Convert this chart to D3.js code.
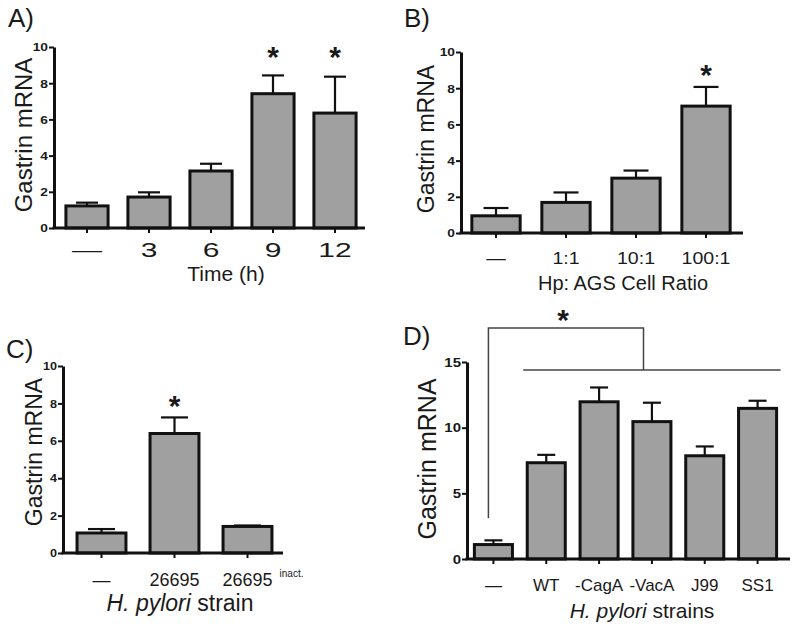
<!DOCTYPE html>
<html><head><meta charset="utf-8">
<script src="https://cdn.jsdelivr.net/npm/d3@7"></script>
<style>body{margin:0;background:#fff}svg{display:block}</style>
</head><body>
<svg id="chart" width="800" height="630"></svg>
<script>
// ---- Panel A: time course ----
const catsA = ["—","3","6","9","12"];
const valsA = [1.22,1.71,3.15,7.42,6.35];
const semA  = [0.18,0.26,0.40,1.01,2.01];
const starsA = [false,false,false,true,true];
const yTicksA = [0,2,4,6,8,10];
// ---- Panel B: Hp:AGS ratio ----
const catsB = ["—","1:1","10:1","100:1"];
const valsB = [0.95,1.69,3.03,7.01];
const semB  = [0.43,0.55,0.42,1.06];
const starsB = [false,false,false,true];
const yTicksB = [0,2,4,6,8,10];
// ---- Panel C: live vs inactivated ----
const catsC = ["—","26695","26695"];
const supC  = ["","","inact."];
const valsC = [1.07,6.39,1.42];
const semC  = [0.21,0.86,0.05];
const starsC = [false,true,false];
const yTicksC = [0,2,4,6,8,10];
// ---- Panel D: strains ----
const catsD = ["—","WT","-CagA","-VacA","J99","SS1"];
const valsD = [1.10,7.33,11.97,10.46,7.86,11.47];
const semD  = [0.32,0.60,1.09,1.44,0.71,0.58];
const starsD = [false,false,false,false,false,false];
const yTicksD = [0,5,10,15];

const FONT = "'Liberation Sans', Arial, Helvetica, sans-serif";
const INK = "#1a1a1a";
const svg = d3.select("#chart");

const panels = [
  {label:"A)", lx:8, ly:27, cats:catsA, vals:valsA, sem:semA, stars:starsA, sup:null, yTicks:yTicksA, yMax:10,
   axisX:54, xEnd:365, band:[56,366], pad:0.32, yBase:228, yTop:47, capW:22,
   tickY:250, tickFs:20, tickSx:1.5, yFs:11, ySx:1.25,
   title:[["Time (h)",false]], titleX:226, titleY:273, titleFs:21,
   yTitleX:23, yTitleY:135, yTitleFs:24, starY:50},
  {label:"B)", lx:404, ly:27, cats:catsB, vals:valsB, sem:semB, stars:starsB, sup:null, yTicks:yTicksB, yMax:10,
   axisX:461, xEnd:743, band:[461,741], pad:0.31, yBase:233, yTop:52, capW:25,
   tickY:258, tickFs:17, tickSx:1.15, yFs:11, ySx:1.25,
   title:[["Hp: AGS Cell Ratio",false]], titleX:623, titleY:283, titleFs:20,
   yTitleX:426, yTitleY:139, yTitleFs:23, starY:68},
  {label:"C)", lx:6, ly:358, cats:catsC, vals:valsC, sem:semC, stars:starsC, sup:supC, yTicks:yTicksC, yMax:10,
   axisX:63, xEnd:283, band:[65,284], pad:0.33, yBase:553, yTop:366, capW:27,
   tickY:580, tickFs:18, tickSx:1.0, yFs:10.5, ySx:1.2,
   title:[["H. pylori",true],[" strain",false]], titleX:180, titleY:603, titleFs:23,
   yTitleX:34, yTitleY:452, yTitleFs:23, starY:399},
  {label:"D)", lx:403, ly:345, cats:catsD, vals:valsD, sem:semD, stars:starsD, sup:null, yTicks:yTicksD, yMax:15,
   axisX:467, xEnd:790, band:[467,784], pad:0.28, yBase:559, yTop:362, capW:18,
   tickY:585, tickFs:17, tickSx:1.0, yFs:12, ySx:1.25,
   title:[["H. pylori",true],[" strains",false]], titleX:642, titleY:610, titleFs:21,
   yTitleX:427, yTitleY:459, yTitleFs:25, starY:313}
];

function drawPanel(p) {
  const g = svg.append("g");
  const n = p.cats.length;
  const x = d3.scaleBand().domain(d3.range(n)).range(p.band).paddingInner(p.pad).paddingOuter(p.pad/2);
  const y = d3.scaleLinear().domain([0, p.yMax]).range([p.yBase, p.yTop]);
  const bw = x.bandwidth();
  const cx = i => x(i) + bw/2;

  // panel letter
  g.append("text").attr("x", p.lx).attr("y", p.ly).attr("font-family", FONT)
    .attr("font-size", 26).attr("fill", INK).text(p.label);

  // error bars (upper only)
  const eg = g.append("g").attr("stroke", "#111").attr("stroke-width", 2.2);
  eg.selectAll("line.v").data(p.vals).join("line")
    .attr("x1", (d,i)=>cx(i)).attr("x2", (d,i)=>cx(i))
    .attr("y1", d=>y(d)).attr("y2", (d,i)=>y(d + p.sem[i]));
  eg.selectAll("line.c").data(p.vals).join("line")
    .attr("x1", (d,i)=>cx(i)-p.capW/2).attr("x2", (d,i)=>cx(i)+p.capW/2)
    .attr("y1", (d,i)=>y(d + p.sem[i])).attr("y2", (d,i)=>y(d + p.sem[i]));

  // bars
  g.selectAll("rect.bar").data(p.vals).join("rect").attr("class","bar")
    .attr("x", (d,i)=>x(i)).attr("y", d=>y(d))
    .attr("width", bw).attr("height", d=>p.yBase - y(d))
    .attr("fill", "#a0a0a0").attr("stroke", "#111").attr("stroke-width", 3);

  // y axis
  const ya = g.append("g").attr("transform", `translate(${p.axisX},0)`)
    .call(d3.axisLeft(y).tickValues(p.yTicks).tickSize(5).tickSizeOuter(0).tickFormat(d3.format("d")));
  ya.select(".domain").attr("stroke", "#111").attr("stroke-width", 3);
  ya.selectAll(".tick line").attr("stroke", "#111").attr("stroke-width", 2);
  ya.selectAll(".tick text")
    .attr("font-family", FONT).attr("font-weight", "bold").attr("font-size", p.yFs)
    .attr("fill", INK).attr("x", -6 / p.ySx).attr("dy", "0.36em")
    .attr("transform", `scale(${p.ySx},1)`);

  // x axis
  const xa = g.append("g").attr("transform", `translate(0,${p.yBase})`)
    .call(d3.axisBottom(x).tickSize(5).tickFormat(""));
  xa.select(".domain").remove();
  xa.selectAll(".tick line").attr("stroke", "#111").attr("stroke-width", 2);
  g.append("line").attr("x1", p.axisX - 1.5).attr("x2", p.xEnd)
    .attr("y1", p.yBase).attr("y2", p.yBase).attr("stroke", "#111").attr("stroke-width", 3);

  // x tick labels
  p.cats.forEach((c,i) => {
    const t = g.append("text")
      .attr("transform", `translate(${cx(i)},${p.tickY + 0.36*p.tickFs}) scale(${p.tickSx},1)`)
      .attr("text-anchor", "middle").attr("font-family", FONT)
      .attr("font-size", p.tickFs).attr("fill", INK).text(c);
    if (p.sup && p.sup[i]) {
      const w = t.node().getComputedTextLength() * p.tickSx;
      g.append("text").attr("x", cx(i) + w/2 + 7).attr("y", p.tickY - 3)
        .attr("font-family", FONT).attr("font-size", 10).attr("fill", INK).text(p.sup[i]);
    }
  });

  // x title
  const tt = g.append("text").attr("x", p.titleX).attr("y", p.titleY + 0.36*p.titleFs)
    .attr("text-anchor", "middle").attr("font-family", FONT)
    .attr("font-size", p.titleFs).attr("fill", INK);
  p.title.forEach(([s, it]) => tt.append("tspan").attr("font-style", it ? "italic" : "normal").text(s));

  // y title
  g.append("text").attr("transform", `translate(${p.yTitleX},${p.yTitleY}) rotate(-90)`)
    .attr("text-anchor", "middle").attr("dy", "0.36em").attr("font-family", FONT)
    .attr("font-size", p.yTitleFs).attr("fill", INK).text("Gastrin mRNA");

  // significance stars
  p.stars.forEach((s,i) => {
    if (!s) return;
    g.append("text").attr("x", cx(i)).attr("y", p.starY + 0.57*30)
      .attr("text-anchor", "middle").attr("font-family", FONT).attr("font-weight", "bold")
      .attr("font-size", 30).attr("fill", INK).text("*");
  });
  return {x, y, cx};
}

const res = panels.map(drawPanel);

// Panel D bracket: control vs all strains
{
  const {x, y, cx} = res[3];
  const b = svg.append("g").attr("fill", "none").attr("stroke", "#444").attr("stroke-width", 1.5);
  const leftX = cx(0) - 5;
  const joinX = (cx(2) + cx(3)) / 2 + 18;
  b.append("path").attr("d", `M${leftX},${y(3.1)} V328 H${joinX} V370`);
  b.append("line").attr("x1", cx(1) - 23).attr("x2", cx(catsD.length-1) + 23)
    .attr("y1", 370).attr("y2", 370);
  svg.append("text").attr("x", 563).attr("y", 313 + 0.57*30)
    .attr("text-anchor", "middle").attr("font-family", FONT).attr("font-weight", "bold")
    .attr("font-size", 30).attr("fill", INK).text("*");
}
</script>
</body></html>
